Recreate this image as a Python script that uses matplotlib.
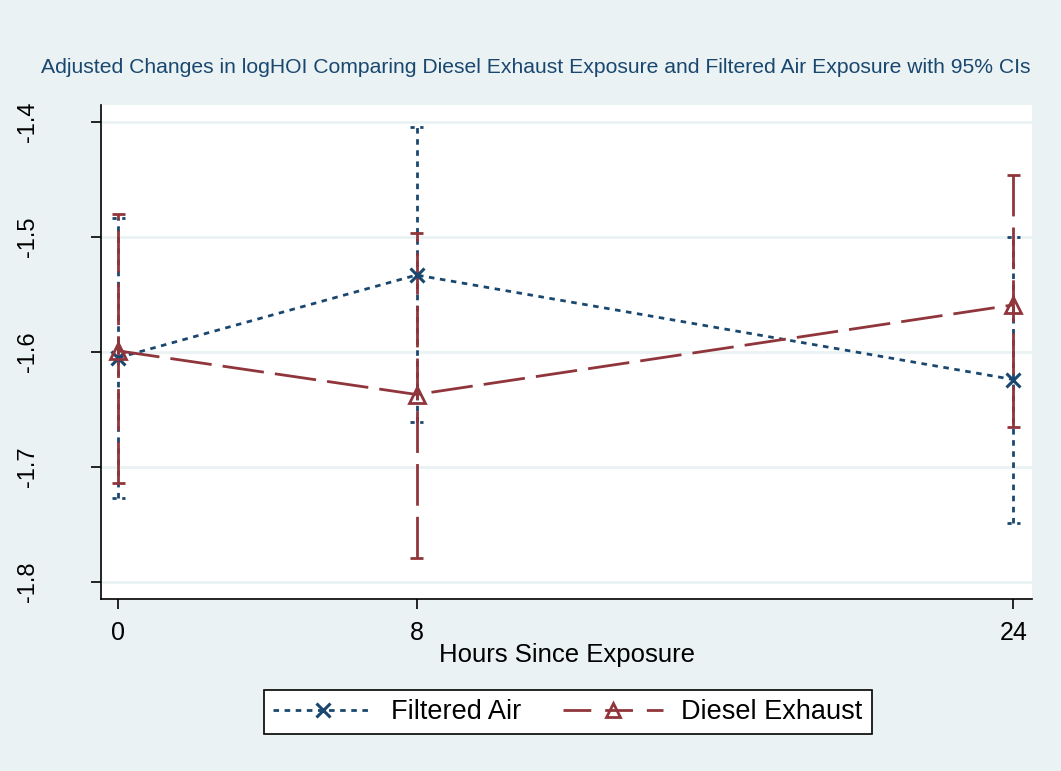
import matplotlib
matplotlib.use('Agg')
import matplotlib.pyplot as plt
from matplotlib.lines import Line2D

plt.rcParams['font.family'] = ['Liberation Sans', 'DejaVu Sans']

# data
hours = [0, 8, 24]
air_est = [-1.605, -1.533, -1.624]
air_lo = [-1.727, -1.661, -1.749]
air_hi = [-1.483, -1.404, -1.500]
die_est = [-1.599, -1.637, -1.559]
die_lo = [-1.714, -1.779, -1.665]
die_hi = [-1.480, -1.496, -1.446]

blue = '#1a476f'
red = '#90353b'
bg = '#eaf2f3'

fig = plt.figure(figsize=(10.61, 7.71), dpi=100, facecolor=bg)
ax = fig.add_axes([0.0952, 0.2231, 0.8775, 0.6407])
ax.set_facecolor('white')

blue_ls = (0, (2, 2))
red_ls = (0, (15, 4))
cap = 0.17

# CIs
ax.vlines(hours, air_lo, air_hi, colors=blue, linestyles=[blue_ls], linewidth=2)
ax.hlines(air_lo + air_hi, [h - cap for h in hours] * 2, [h + cap for h in hours] * 2,
          colors=blue, linestyles=[(0, (1.5, 2))], linewidth=2)
ax.vlines(hours, die_lo, die_hi, colors=red, linestyles=[red_ls], linewidth=2)
ax.hlines(die_lo + die_hi, [h - cap for h in hours] * 2, [h + cap for h in hours] * 2,
          colors=red, linewidth=2)

# estimates
ax.plot(hours, air_est, color=blue, linestyle=blue_ls, linewidth=2,
        marker='x', markersize=10, markeredgewidth=2.2)
ax.plot(hours, die_est, color=red, linestyle=red_ls, linewidth=2,
        marker='^', markersize=11, markerfacecolor='none', markeredgewidth=2)

ax.set_xlim(-0.46, 24.5)
ax.set_ylim(-1.815, -1.385)
ax.set_xticks(hours)
ax.set_xticklabels([str(h) for h in hours])
ax.set_yticks([-1.4, -1.5, -1.6, -1.7, -1.8])
ax.set_yticklabels(['-1.4', '-1.5', '-1.6', '-1.7', '-1.8'], rotation=90, va='center')
ax.tick_params(axis='both', length=7.5, width=1.2, color='black')
ax.tick_params(axis='x', labelsize=18, pad=8)
ax.tick_params(axis='y', labelsize=17, pad=37)
ax.grid(axis='y', color=bg, linewidth=2)
ax.set_axisbelow(True)
for s in ['top', 'right']:
    ax.spines[s].set_visible(False)
ax.spines['left'].set_linewidth(1.2)
ax.spines['bottom'].set_linewidth(1.2)

ax.set_xlabel('Hours Since Exposure', fontsize=18.5, labelpad=-1)

fig.text(0.505, 0.912,
         'Adjusted Changes in logHOI Comparing Diesel Exhaust Exposure and Filtered Air Exposure with 95% CIs',
         ha='center', va='center', fontsize=15.2, color=blue)

handles = [
    Line2D([], [], color=blue, linestyle=blue_ls, linewidth=2, marker='x',
           markersize=10, markeredgewidth=2.2),
    Line2D([], [], color=red, linestyle=(0, (10, 5)), linewidth=2, marker='^',
           markersize=10, markerfacecolor='none', markeredgewidth=2),
]
leg = fig.legend(handles, ['Filtered Air', 'Diesel Exhaust'], loc='center',
                 bbox_to_anchor=(0.535, 0.0765), ncol=2, fontsize=19.5,
                 frameon=True, fancybox=False, framealpha=1, edgecolor='black',
                 handlelength=3.7, handletextpad=0.65, columnspacing=1.55,
                 borderpad=0.35)
leg.get_frame().set_linewidth(1.2)

fig.savefig('out.png', dpi=100, facecolor=bg)
